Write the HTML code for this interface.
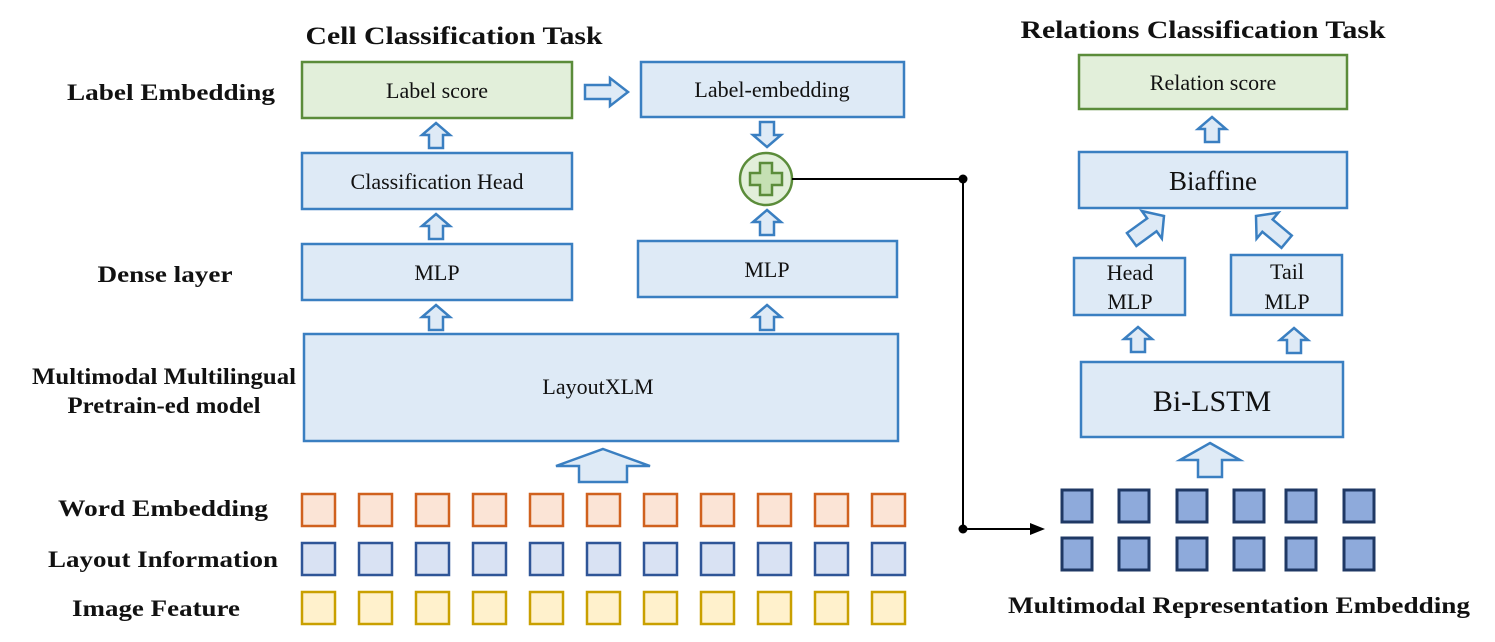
<!DOCTYPE html>
<html><head><meta charset="utf-8"><style>
html,body{margin:0;padding:0;background:#fff;}
svg{display:block;}
.b{fill:#deeaf6;stroke:#3a7fc1;stroke-width:2.5;}
.g{fill:#e2efda;stroke:#5b8c3a;stroke-width:2.5;}
.a{fill:#deeaf6;stroke:#3a7fc1;stroke-width:2.5;stroke-linejoin:miter;}
.t{font-family:"Liberation Serif","Times New Roman",serif;font-size:22px;fill:#111;text-anchor:middle;}
.l{font-family:"Liberation Serif","Times New Roman",serif;font-size:23px;font-weight:bold;fill:#111;text-anchor:middle;}
.o{fill:#fbe4d6;stroke:#d0611e;stroke-width:2.5;}
.u{fill:#d9e2f3;stroke:#2f5597;stroke-width:2.5;}
.y{fill:#fff1cc;stroke:#c9a000;stroke-width:2.5;}
.d{fill:#8eaadb;stroke:#1f3864;stroke-width:3;}
</style></head><body>
<svg width="1495" height="642" viewBox="0 0 1495 642" xmlns="http://www.w3.org/2000/svg">
<defs>
<polygon id="ua" points="0,0 14,12 7,12 7,25 -7,25 -7,12 -14,12"/>
<polygon id="da" points="0,0 17,15 8,15 8,40 -8,40 -8,15 -17,15"/>
</defs>
<!-- titles -->
<text class="l" x="454" y="44" style="font-size:25px" textLength="297" lengthAdjust="spacingAndGlyphs">Cell Classification Task</text>
<text class="l" x="1203" y="38" style="font-size:25px" textLength="365" lengthAdjust="spacingAndGlyphs">Relations Classification Task</text>
<!-- left labels -->
<text class="l" x="171" y="100" textLength="208" lengthAdjust="spacingAndGlyphs">Label Embedding</text>
<text class="l" x="165" y="282" textLength="135" lengthAdjust="spacingAndGlyphs">Dense layer</text>
<text class="l" x="164" y="384" textLength="264" lengthAdjust="spacingAndGlyphs">Multimodal Multilingual</text>
<text class="l" x="164" y="413" textLength="193" lengthAdjust="spacingAndGlyphs">Pretrain-ed model</text>
<text class="l" x="163" y="516" textLength="210" lengthAdjust="spacingAndGlyphs">Word Embedding</text>
<text class="l" x="163" y="567" textLength="230" lengthAdjust="spacingAndGlyphs">Layout Information</text>
<text class="l" x="156" y="616" textLength="168" lengthAdjust="spacingAndGlyphs">Image Feature</text>
<text class="l" x="1239" y="613" textLength="462" lengthAdjust="spacingAndGlyphs">Multimodal Representation Embedding</text>

<!-- left boxes -->
<rect class="g" x="302" y="62" width="270" height="56"/>
<text class="t" x="437" y="98">Label score</text>
<rect class="b" x="641" y="62" width="263" height="55"/>
<text class="t" x="772" y="97">Label-embedding</text>
<rect class="b" x="302" y="153" width="270" height="56"/>
<text class="t" x="437" y="189">Classification Head</text>
<rect class="b" x="302" y="244" width="270" height="56"/>
<text class="t" x="437" y="280">MLP</text>
<rect class="b" x="638" y="241" width="259" height="56"/>
<text class="t" x="767" y="277">MLP</text>
<rect class="b" x="304" y="334" width="594" height="107"/>
<text class="t" x="598" y="394">LayoutXLM</text>

<!-- plus circle -->
<circle cx="766" cy="179" r="26" fill="#e2efda" stroke="#5b8c3a" stroke-width="2.5"/>
<polygon points="760,163 772,163 772,173 782,173 782,185 772,185 772,195 760,195 760,185 750,185 750,173 760,173" fill="#c5e0b3" stroke="#5b8c3a" stroke-width="2.5"/>

<!-- connector -->
<polyline points="792,179 963,179 963,529 1030,529" fill="none" stroke="#000" stroke-width="2"/>
<polygon points="1030,523 1045,529 1030,535" fill="#000"/>
<circle cx="963" cy="179" r="4.5" fill="#000"/>
<circle cx="963" cy="529" r="4.5" fill="#000"/>

<!-- small arrows left -->
<use href="#ua" class="a" x="436" y="123"/>
<use href="#ua" class="a" x="436" y="214"/>
<use href="#ua" class="a" x="436" y="305"/>
<use href="#ua" class="a" x="767" y="305"/>
<use href="#ua" class="a" x="767" y="210"/>
<g transform="translate(767,147) scale(1,-1)"><use href="#ua" class="a"/></g>
<polygon class="a" points="585,85 610,85 610,78 628,92 610,106 610,99 585,99"/>
<polygon class="a" points="603,449 650,466 627,466 627,482 579,482 579,466 556,466"/>

<!-- squares -->
<g>
<rect class="o" x="302" y="494" width="33" height="32"/><rect class="o" x="359" y="494" width="33" height="32"/><rect class="o" x="416" y="494" width="33" height="32"/><rect class="o" x="473" y="494" width="33" height="32"/><rect class="o" x="530" y="494" width="33" height="32"/><rect class="o" x="587" y="494" width="33" height="32"/><rect class="o" x="644" y="494" width="33" height="32"/><rect class="o" x="701" y="494" width="33" height="32"/><rect class="o" x="758" y="494" width="33" height="32"/><rect class="o" x="815" y="494" width="33" height="32"/><rect class="o" x="872" y="494" width="33" height="32"/>
<rect class="u" x="302" y="543" width="33" height="32"/><rect class="u" x="359" y="543" width="33" height="32"/><rect class="u" x="416" y="543" width="33" height="32"/><rect class="u" x="473" y="543" width="33" height="32"/><rect class="u" x="530" y="543" width="33" height="32"/><rect class="u" x="587" y="543" width="33" height="32"/><rect class="u" x="644" y="543" width="33" height="32"/><rect class="u" x="701" y="543" width="33" height="32"/><rect class="u" x="758" y="543" width="33" height="32"/><rect class="u" x="815" y="543" width="33" height="32"/><rect class="u" x="872" y="543" width="33" height="32"/>
<rect class="y" x="302" y="592" width="33" height="32"/><rect class="y" x="359" y="592" width="33" height="32"/><rect class="y" x="416" y="592" width="33" height="32"/><rect class="y" x="473" y="592" width="33" height="32"/><rect class="y" x="530" y="592" width="33" height="32"/><rect class="y" x="587" y="592" width="33" height="32"/><rect class="y" x="644" y="592" width="33" height="32"/><rect class="y" x="701" y="592" width="33" height="32"/><rect class="y" x="758" y="592" width="33" height="32"/><rect class="y" x="815" y="592" width="33" height="32"/><rect class="y" x="872" y="592" width="33" height="32"/>
</g>

<!-- right side -->
<rect class="g" x="1079" y="55" width="268" height="54"/>
<text class="t" x="1213" y="90">Relation score</text>
<use href="#ua" class="a" x="1212" y="117"/>
<rect class="b" x="1079" y="152" width="268" height="56"/>
<text class="t" x="1213" y="190" style="font-size:27px">Biaffine</text>
<rect class="b" x="1074" y="258" width="111" height="57"/>
<text class="t" x="1130" y="280">Head</text>
<text class="t" x="1130" y="309">MLP</text>
<rect class="b" x="1231" y="255" width="111" height="60"/>
<text class="t" x="1287" y="279">Tail</text>
<text class="t" x="1287" y="309">MLP</text>
<g transform="translate(1164,216) rotate(54)"><use href="#da" class="a"/></g>
<g transform="translate(1256,216) rotate(-50)"><use href="#da" class="a"/></g>
<use href="#ua" class="a" x="1138" y="327"/>
<use href="#ua" class="a" x="1294" y="328"/>
<rect class="b" x="1081" y="362" width="262" height="75"/>
<text class="t" x="1212" y="411" style="font-size:30px">Bi-LSTM</text>
<polygon class="a" points="1210,443 1240,460 1222,460 1222,477 1198,477 1198,460 1180,460"/>
<g>
<rect class="d" x="1062" y="490" width="30" height="32"/><rect class="d" x="1119" y="490" width="30" height="32"/><rect class="d" x="1177" y="490" width="30" height="32"/><rect class="d" x="1234" y="490" width="30" height="32"/><rect class="d" x="1286" y="490" width="30" height="32"/><rect class="d" x="1344" y="490" width="30" height="32"/>
<rect class="d" x="1062" y="538" width="30" height="32"/><rect class="d" x="1119" y="538" width="30" height="32"/><rect class="d" x="1177" y="538" width="30" height="32"/><rect class="d" x="1234" y="538" width="30" height="32"/><rect class="d" x="1286" y="538" width="30" height="32"/><rect class="d" x="1344" y="538" width="30" height="32"/>
</g>
</svg>
</body></html>
